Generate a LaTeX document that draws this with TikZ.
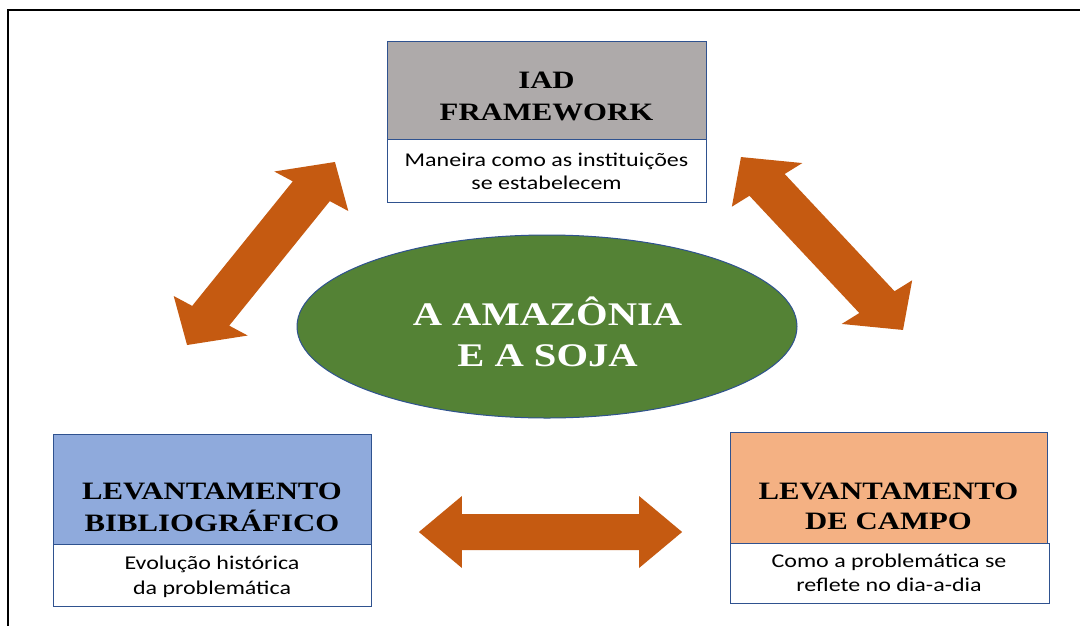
\documentclass[tikz,border=0pt]{standalone}
\usepackage{fontspec}
\setmainfont{Liberation Serif}
\newfontfamily\titlefont[FakeStretch=1.23]{Liberation Serif}
\newfontfamily\descfont[FakeStretch=1.23]{Carlito}
\usetikzlibrary{shapes.geometric}
\definecolor{arrowc}{HTML}{C55A11}
\definecolor{iadgray}{HTML}{AEAAAA}
\definecolor{biblue}{HTML}{8FAADC}
\definecolor{campoorange}{HTML}{F4B183}
\definecolor{coregreen}{HTML}{548235}
\definecolor{boxline}{HTML}{2F528F}
\newcommand{\dblarrow}[4]{%
  \fill[arrowc, shift={(#1,#2)}, xscale=1.23, rotate=#3]
   ({-#4/2},0) -- ({-#4/2+35},-36) -- ({-#4/2+35},-18) -- ({#4/2-35},-18)
   -- ({#4/2-35},-36) -- ({#4/2},0) -- ({#4/2-35},36) -- ({#4/2-35},18)
   -- ({-#4/2+35},18) -- ({-#4/2+35},36) -- cycle;}
\begin{document}
\begin{tikzpicture}[x=1pt,y=-1pt,
  boxpart/.style={rectangle, draw=boxline, line width=1pt, inner sep=0pt},
  titletext/.style={anchor=base, inner sep=0pt, font=\titlefont\bfseries\fontsize{25}{30}\selectfont},
  desctext/.style={anchor=base, inner sep=0pt, font=\descfont\fontsize{19.5}{24}\selectfont},
  coretext/.style={anchor=base, inner sep=0pt, text=white, font=\titlefont\bfseries\fontsize{33}{40}\selectfont}]
\useasboundingbox (0,0) rectangle (1080,625);
\fill[white] (0,0) rectangle (1080,625);
\draw[line width=1.5pt] (8,626) -- (8,10) -- (1081,10);

% arrows
\dblarrow{261}{253.5}{56.7}{219}
\dblarrow{822}{243.5}{-52.7}{217.4}
\dblarrow{550.5}{532}{0}{214}

% centre
\node[ellipse, draw=boxline, line width=1pt, fill=coregreen, minimum width=500pt, minimum height=183pt, inner sep=0pt] (core) at (547,326.5) {};
\node[coretext] (core1) at (547.5,325) {A AMAZÔNIA};
\node[coretext] (core2) at (547.5,366.7) {E A SOJA};

% IAD box
\node[boxpart, fill=iadgray, minimum width=319pt, minimum height=98pt] (iadhead) at (546.5,90) {};
\node[boxpart, fill=white, minimum width=319pt, minimum height=63pt] (iaddesc) at (546.5,170.5) {};
\node[titletext] (iadt1) at (546.5,88.3) {IAD};
\node[titletext] (iadt2) at (546.5,120.7) {FRAMEWORK};
\node[desctext] (iadd1) at (546.5,166) {Maneira como as instituições};
\node[desctext] (iadd2) at (546.5,189) {se estabelecem};

% Bibliografico box
\node[boxpart, fill=biblue, minimum width=318pt, minimum height=110pt] (bibhead) at (212,489) {};
\node[boxpart, fill=white, minimum width=318pt, minimum height=62pt] (bibdesc) at (212,575) {};
\node[titletext] (bibt1) at (212,499.3) {LEVANTAMENTO};
\node[titletext] (bibt2) at (212,531) {BIBLIOGRÁFICO};
\node[desctext] (bibd1) at (212,569.3) {Evolução histórica};
\node[desctext] (bibd2) at (212,594) {da problemática};

% Campo box
\node[boxpart, fill=campoorange, minimum width=317pt, minimum height=111pt] (camhead) at (888.5,487.5) {};
\node[boxpart, fill=white, minimum width=319pt, minimum height=60pt] (camdesc) at (889.5,573) {};
\node[titletext] (camt1) at (888.5,499.3) {LEVANTAMENTO};
\node[titletext] (camt2) at (888.5,529.3) {DE CAMPO};
\node[desctext] (camd1) at (889,567.7) {Como a problemática se};
\node[desctext] (camd2) at (889,591) {reflete no dia-a-dia};
\end{tikzpicture}
\end{document}
